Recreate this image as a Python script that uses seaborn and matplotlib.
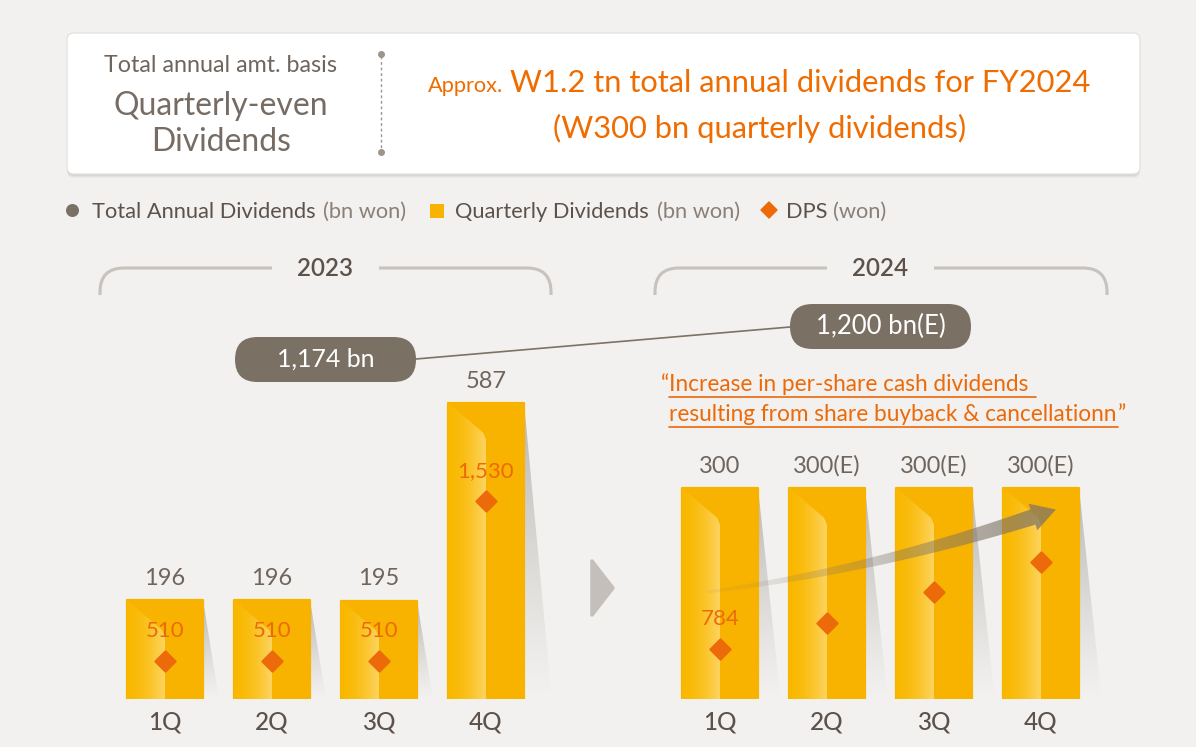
import numpy as np
import pandas as pd
import matplotlib
matplotlib.use("Agg")
import matplotlib.pyplot as plt
import seaborn as sns
from matplotlib.patches import FancyBboxPatch, Polygon, PathPatch, Circle, Rectangle
from matplotlib.path import Path

# ---------------- data ----------------
quarters = ["1Q", "2Q", "3Q", "4Q"]
years = ["2023", "2024"]
div_2023 = [196, 196, 195, 587]
div_2024 = [300, 300, 300, 300]
div_labels_2023 = ["196", "196", "195", "587"]
div_labels_2024 = ["300", "300(E)", "300(E)", "300(E)"]
dps_2023 = [510, 510, 510, 1530]
dps_2024 = [784, 870, 975, 1075]          # 2Q-4Q
dps_labels_2023 = ["510", "510", "510", "1,530"]
dps_labels_2024 = ["784", "", "", ""]
total_labels = ["1,174 bn", "1,200 bn(E)"]

# ---------------- style ----------------
sns.set_theme(style="white")
plt.rcParams["font.family"] = ["Lato", "DejaVu Sans"]

W, H = 1196, 747
BG = "#f2f1ef"
BAR = "#f8b300"
ORANGE = "#ec6a0a"
HEAD_OR = "#ef6c00"
PILL = "#7b7064"
DARK = "#5d524b"
GRAY = "#6f655d"

fig = plt.figure(figsize=(W / 100, H / 100), dpi=100)
fig.patch.set_facecolor(BG)
renderer = fig.canvas.get_renderer()


def frac(x0, y0, x1, y1):
    return [x0 / W, 1 - y1 / H, (x1 - x0) / W, (y1 - y0) / H]


def fit(t, width):
    bb = t.get_window_extent(renderer=renderer)
    t.set_fontsize(t.get_fontsize() * width / bb.width)
    return t


# background axes in pixel coordinates
bg = fig.add_axes([0, 0, 1, 1], zorder=0)
bg.set_xlim(0, W)
bg.set_ylim(H, 0)
bg.axis("off")

# header box with soft shadow
for off, a in [(4, 0.10), (3, 0.15), (2, 0.22)]:
    bg.add_patch(FancyBboxPatch((67, 33 + off), 1073, 141, boxstyle="round,pad=0,rounding_size=7",
                                fc="#b8b2ac", ec="none", alpha=a))
bg.add_patch(FancyBboxPatch((67, 33), 1073, 141, boxstyle="round,pad=0,rounding_size=7",
                            fc="white", ec="#e2deda", lw=0.8))
bg.plot([381, 381], [56, 150], ls=(0, (2, 2)), color="#9d948c", lw=1.0)
bg.plot([381, 381], [54, 152], "o", ms=4, color="#9d948c")

t = bg.text(221, 71.5, "Total annual amt. basis", ha="center", va="baseline", fontsize=15, color=GRAY)
fit(t, 233)
tq = bg.text(221, 115, "Quarterly-even", ha="center", va="baseline", fontsize=22, color="#766c63")
fit(tq, 214)
bg.text(221, 151, "Dividends", ha="center", va="baseline", fontsize=tq.get_fontsize(), color="#766c63")

t1 = bg.text(428, 92, "Approx.", ha="left", va="baseline", fontsize=13, color=HEAD_OR)
fit(t1, 75)
t2 = bg.text(510, 92, "W1.2 tn total annual dividends for FY2024", ha="left", va="baseline",
             fontsize=20, color=HEAD_OR)
fit(t2, 580)
t3 = bg.text(759.5, 138, "(W300 bn quarterly dividends)", ha="center", va="baseline",
             fontsize=t2.get_fontsize(), color=HEAD_OR)

# legend row
bg.add_patch(Circle((72.5, 210.5), 6.5, fc=PILL, ec="none"))
lt = bg.text(92, 218, "Total Annual Dividends", ha="left", va="baseline", fontsize=15, color=DARK)
fit(lt, 224)
lfs = lt.get_fontsize()
bg.text(323, 218, "(bn won)", ha="left", va="baseline", fontsize=lfs, color="#8a8078")
bg.add_patch(Rectangle((430, 203.5), 14, 14, fc=BAR, ec="none"))
bg.text(455, 218, "Quarterly Dividends", ha="left", va="baseline", fontsize=lfs, color=DARK)
bg.text(657, 218, "(bn won)", ha="left", va="baseline", fontsize=lfs, color="#8a8078")
bg.add_patch(Polygon([(769, 202), (777, 210), (769, 218), (761, 210)], closed=True,
                     fc=ORANGE, ec=ORANGE, lw=1, joinstyle="round"))
bg.text(786, 218, "DPS", ha="left", va="baseline", fontsize=lfs, color=DARK)
bg.text(833, 218, "(won)", ha="left", va="baseline", fontsize=lfs, color="#8a8078")


# year brackets
def bracket(x0, x1, g0, g1, y=268, yb=295, r=24):
    codes = [Path.MOVETO, Path.LINETO, Path.CURVE3, Path.CURVE3, Path.LINETO]
    for pts in ([(x0, yb), (x0, y + r), (x0, y), (x0 + r, y), (g0, y)],
                [(g1, y), (x1 - r, y), (x1, y), (x1, y + r), (x1, yb)]):
        bg.add_patch(PathPatch(Path(pts, codes), fc="none", ec="#c7c2bd", lw=2.2, capstyle="butt"))


bracket(100, 551, 272, 379)
bracket(655, 1107, 827, 934)
for xc, yr in zip([325, 880.5], years):
    yt = bg.text(xc, 268, yr, ha="center", va="center", fontsize=17, color=DARK, weight="semibold")
    fit(yt, 56)

# total pills and connector
bg.plot([416, 790], [359, 327], color="#7d7266", lw=1.2, zorder=1)
for (px, py), lab, tw_ in zip([(235, 337), (790, 304)], total_labels, [98, 130]):
    bg.add_patch(FancyBboxPatch((px, py), 181, 45, boxstyle="round,pad=0,rounding_size=22.5",
                                fc=PILL, ec="none", zorder=2))
    pt = bg.text(px + 90.5, py + 22.5, lab, ha="center", va="center", fontsize=16, color="white", zorder=3)
    fit(pt, tw_)

# quote
q1 = bg.text(669, 391, "Increase in per-share cash dividends", ha="left", va="baseline",
             fontsize=15, color=ORANGE)
fit(q1, 360)
qfs = q1.get_fontsize()
q2 = bg.text(669, 421, "resulting from share buyback & cancellationn", ha="left", va="baseline",
             fontsize=qfs, color=ORANGE)
bg.text(669, 391, "\u201c", ha="right", va="baseline", fontsize=qfs, color=ORANGE)
b2 = q2.get_window_extent(renderer=renderer)
x2_end = b2.x1
bg.text(x2_end + 1, 421, "\u201d", ha="left", va="baseline", fontsize=qfs, color=ORANGE)
bg.plot([669, 1036], [396.5, 396.5], color=ORANGE, lw=1.2)
bg.plot([669, x2_end + 2], [427, 427], color=ORANGE, lw=1.2)

# chevron between the years
bg.add_patch(Polygon([(592, 561), (613, 588), (592, 615)], closed=True, fc="#c4bfba", ec="#c4bfba",
                     lw=2.5, joinstyle="round"))

# ---------------- bar panels ----------------
SP = 107.0
TOP, BOT = 300, 699
AXH = BOT - TOP


def panel(center1, values, vlabels, dps, dlabels, ppu, dps_v0, dps_ppu):
    left = center1 - SP / 2
    ax = fig.add_axes(frac(left, TOP, left + 4.3 * SP, BOT))
    ax.set_zorder(1)
    ax.patch.set_alpha(0)
    sns.barplot(x=quarters, y=values, ax=ax, color=BAR, saturation=1, width=0.71, errorbar=None)
    ymax = AXH / ppu
    for p, lab in zip(list(ax.patches), vlabels):
        p.set_edgecolor(BAR)
        p.set_linewidth(1.6)
        p.set_joinstyle("round")
        p.set_zorder(3)
        x0, w, h = p.get_x(), p.get_width(), p.get_height()
        xc, x1 = x0 + w / 2, x0 + w
        hpx = h * ppu
        # lighter folded left panel with gradient
        poly = Polygon([(x0, 0), (x0, h), (xc - 3 / SP, h - 30 / ppu), (xc, h - 37 / ppu), (xc, 0)],
                       closed=True, transform=ax.transData)
        n = 80
        tt = np.linspace(0, 1, n)
        c0 = np.array([249, 184, 0]) / 255
        c1 = np.array([253, 212, 96]) / 255
        mix = tt ** 1.7
        img = np.ones((1, n, 4))
        img[0, :, :3] = c0[None, :] * (1 - mix[:, None]) + c1[None, :] * mix[:, None]
        im = ax.imshow(img, extent=(x0, xc, 0, h), aspect="auto", interpolation="bilinear", zorder=4)
        im.set_clip_path(poly)
        # side shadow
        dx = (10 + 0.06 * hpx) / SP
        spoly = Polygon([(x1, h), (x1 + dx, 0), (x1, 0)], closed=True, transform=ax.transData)
        m = 120
        yy = np.linspace(0, 1, m)
        simg = np.zeros((m, 1, 4))
        simg[:, 0, :3] = np.array([150, 145, 140]) / 255
        simg[:, 0, 3] = 0.6 * np.clip(yy, 0, 1) ** 1.2
        sim = ax.imshow(simg, extent=(x1, x1 + dx, 0, h), origin="lower", aspect="auto",
                        interpolation="bilinear", zorder=2)
        sim.set_clip_path(spoly)
        ax.annotate(lab, (xc, h), xytext=(0, 15.5), textcoords="offset points", ha="center",
                    va="center", fontsize=17, color=GRAY, zorder=6)
    ax.set_xlim(-0.5, 3.8)
    ax.set_ylim(0, ymax)
    ax.set_yticks([])
    ax.set_xlabel("")
    ax.set_ylabel("")
    ax.set_xticks(range(4))
    ax.set_xticklabels(quarters)
    ax.tick_params(axis="x", length=0, pad=8, labelsize=17.5, labelcolor=DARK)
    for lab in ax.get_xticklabels():
        lab.set_fontweight("medium")
    for s in ax.spines.values():
        s.set_visible(False)

    tw = ax.twinx()
    tw.set_zorder(2)
    tw.patch.set_alpha(0)
    sns.scatterplot(x=np.arange(4), y=dps, ax=tw, marker="D", s=105, color=ORANGE,
                    edgecolor=ORANGE, linewidth=1.6, zorder=5)
    for i, (d, lab) in enumerate(zip(dps, dlabels)):
        if lab:
            tw.annotate(lab, (i, d), xytext=(0, 21.5), textcoords="offset points", ha="center",
                        va="center", fontsize=16, color=ORANGE)
    tw.set_ylim(dps_v0, dps_v0 + AXH / dps_ppu)
    tw.set_xlim(-0.5, 3.8)
    tw.axis("off")
    return ax, tw


panel(165, div_2023, div_labels_2023, dps_2023, dps_labels_2023, 0.505, 265.8, 0.15686)
panel(720, div_2024, div_labels_2024, dps_2024, dps_labels_2024, 0.7043, 616.8, 0.299)

# ---------------- overlay: growth arrow ----------------
ov = fig.add_axes([0, 0, 1, 1], zorder=10)
ov.patch.set_alpha(0)
ov.axis("off")
P0 = np.array([707.0, 592.0])
P1 = np.array([870.0, 570.5])
P2 = np.array([1033.0, 517.0])
tt = np.linspace(0, 1, 120)[:, None]
B = (1 - tt) ** 2 * P0 + 2 * tt * (1 - tt) * P1 + tt ** 2 * P2
dB = 2 * (1 - tt) * (P1 - P0) + 2 * tt * (P2 - P1)
tang = dB / np.linalg.norm(dB, axis=1, keepdims=True)
nrm = np.stack([tang[:, 1], -tang[:, 0]], axis=1)
wid = (1.5 + 6.5 * tt[:, 0] ** 1.1)[:, None]
upper = B + nrm * wid
lower = B - nrm * wid
u_end, n_end = tang[-1], nrm[-1]
tip = P2 + u_end * 24
pts = np.vstack([upper, P2 + n_end * 14, tip, P2 - n_end * 14, lower[::-1]])
apoly = Polygon(pts, closed=True, transform=ov.transData)
na = 200
ga = np.linspace(0, 1, na)
aimg = np.zeros((1, na, 4))
aimg[0, :, :3] = np.array([126, 115, 103]) / 255
aimg[0, :, 3] = 0.06 + 0.72 * ga ** 1.2
aim = ov.imshow(aimg, extent=(700, 1065, 600, 495), aspect="auto", interpolation="bilinear")
aim.set_clip_path(apoly)
ov.set_xlim(0, W)
ov.set_ylim(H, 0)

fig.savefig("out.png", dpi=100, facecolor=BG)
